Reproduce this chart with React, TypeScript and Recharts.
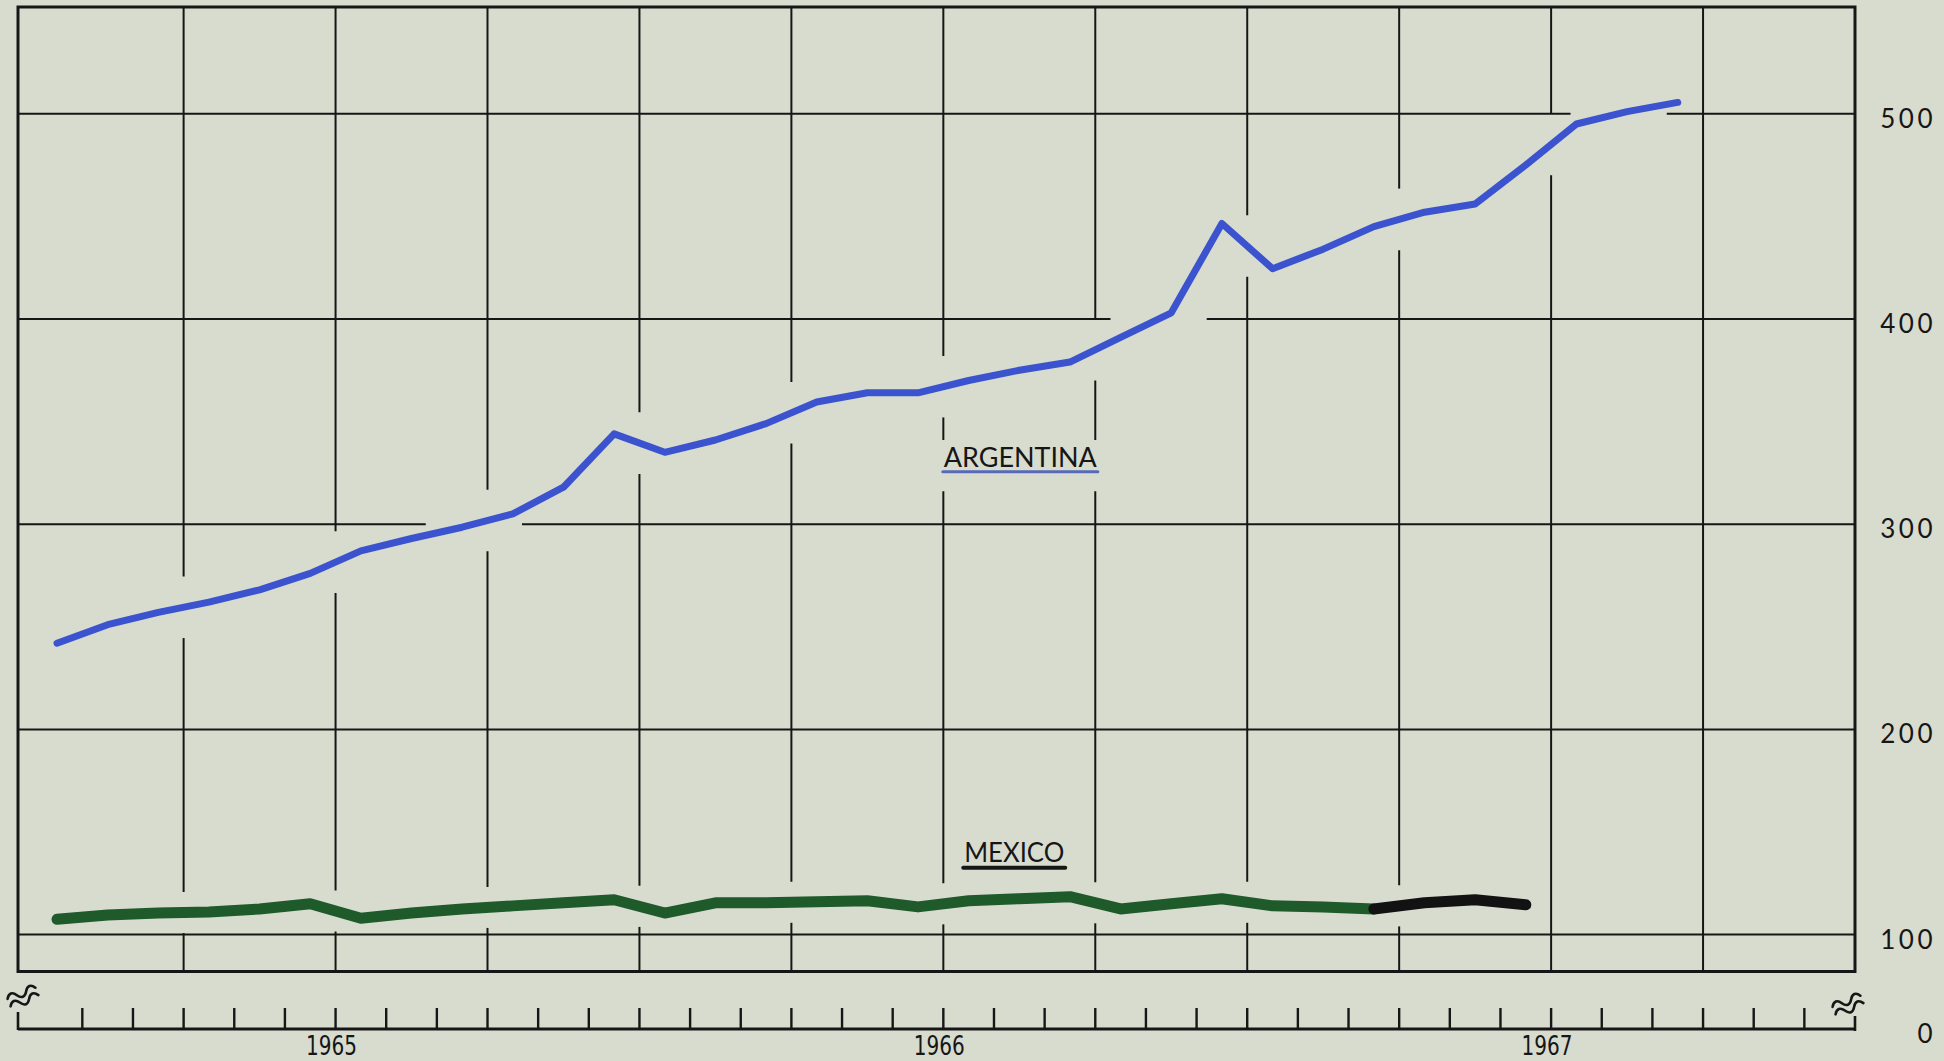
import React from "react";
import {
  LineChart,
  Line,
  XAxis,
  YAxis,
  ReferenceLine,
  ReferenceArea,
  ReferenceDot,
} from "recharts";

// ---------- data ----------
// month boundaries of the time axis (Jan 1965 .. Jan 1968); the two ends carry the break marks
const X_DOMAIN: [number, number] = [-0.27, 36];
const MONTH_TICKS = [
  X_DOMAIN[0], 1, 2, 3, 4, 5, 6, 7, 8, 9, 10, 11, 12, 13, 14, 15, 16, 17, 18,
  19, 20, 21, 22, 23, 24, 25, 26, 27, 28, 29, 30, 31, 32, 33, 34, 35, X_DOMAIN[1],
];
const QUARTER_LINES = [3, 6, 9, 12, 15, 18, 21, 24, 27, 30, 33];
const YEAR_AT = [6, 18, 30];
const YEAR_TEXT = ["1965", "1966", "1967"];

const VALUE_LINES = [100, 200, 300, 400, 500];
const VALUE_TICKS = [54, 100, 200, 300, 400, 500];
const VALUE_TICK_TEXT = ["0", "100", "200", "300", "400", "500"];

// monthly values, Jan 1965 onwards
const ARGENTINA = [
  242, 251, 257, 262, 268, 276, 287, 293, 298.5, 305, 318, 344, 335, 341, 349,
  359.5, 364, 364, 370, 375, 379, 391, 403, 446.5, 424.5, 434, 445, 452, 456,
  475, 495, 501, 505.5,
];
const MEXICO = [
  107.5, 109.5, 110.5, 111, 112.5, 115, 108, 110.5, 112.5, 114, 115.5, 117,
  110.5, 115.5, 115.5, 116, 116.5, 113.5, 116.5, 117.5, 118.5, 112.5, 115,
  117.5, 114, 113.5, 112.5, 115.5, 117, 114.5,
];
const MEXICO_PRELIM_FROM = 26; // drawn in black from this month on

const SERIES_LABELS = ["ARGENTINA", "MEXICO"];

// ---------- layout / style ----------
const W = 1944;
const H = 1061;
const BG = "#d8dccf";
const INK = "#161616";
const ARG_COLOR = "#3c53d0";
const MEX_COLOR = "#1e5a2a";
const MEX_PRELIM_COLOR = "#121212";
const Y_DOMAIN: [number, number] = [54, 552];
const FRAME_BOTTOM = 82;
const ARG_GAP = 15;
const MEX_GAP = 10;
const H_GAP = 0.95;
const ARG_LABEL = { x: 19.52, y: 328, band: [316, 341], cols: [18, 21] };
const MEX_LABEL = { x: 19.4, y: 135.5 };

type Pt = { month: number; value: number };
const toPoints = (values: number[], start: number): Pt[] =>
  values.map((v, i) => ({ month: start + i + 0.5, value: v }));

const argData = toPoints(ARGENTINA, 0);
const mexData = toPoints(MEXICO.slice(0, MEXICO_PRELIM_FROM + 1), 0);
const mexPrelimData = toPoints(MEXICO.slice(MEXICO_PRELIM_FROM), MEXICO_PRELIM_FROM);
const mexAll = toPoints(MEXICO, 0);

function valueAt(points: Pt[], m: number): number | null {
  for (let i = 0; i < points.length - 1; i++) {
    const a = points[i];
    const b = points[i + 1];
    if (m >= a.month && m <= b.month) {
      return a.value + ((b.value - a.value) * (m - a.month)) / (b.month - a.month);
    }
  }
  return null;
}

function crossings(points: Pt[], v: number): number[] {
  const out: number[] = [];
  for (let i = 0; i < points.length - 1; i++) {
    const a = points[i];
    const b = points[i + 1];
    if ((a.value - v) * (b.value - v) <= 0 && a.value !== b.value) {
      out.push(a.month + ((v - a.value) / (b.value - a.value)) * (b.month - a.month));
    }
  }
  return out;
}

function splitRange(lo: number, hi: number, gaps: number[][]): number[][] {
  const sorted = gaps
    .map(([a, b]) => [Math.max(lo, a), Math.min(hi, b)])
    .filter(([a, b]) => b > a)
    .sort((p, q) => p[0] - q[0]);
  const segs: number[][] = [];
  let cur = lo;
  for (const [a, b] of sorted) {
    if (a > cur) segs.push([cur, a]);
    cur = Math.max(cur, b);
  }
  if (cur < hi) segs.push([cur, hi]);
  return segs;
}

const verticalSegments: { x: number; y1: number; y2: number }[] = [];
QUARTER_LINES.forEach((m) => {
  const gaps: number[][] = [];
  const a = valueAt(argData, m);
  if (a !== null) gaps.push([a - ARG_GAP, a + ARG_GAP]);
  const me = valueAt(mexAll, m);
  if (me !== null) gaps.push([me - MEX_GAP, me + MEX_GAP]);
  if (ARG_LABEL.cols.includes(m)) gaps.push(ARG_LABEL.band);
  splitRange(FRAME_BOTTOM, Y_DOMAIN[1], gaps).forEach(([y1, y2]) =>
    verticalSegments.push({ x: m, y1, y2 })
  );
});

const horizontalSegments: { y: number; x1: number; x2: number }[] = [];
VALUE_LINES.forEach((v) => {
  const gaps = crossings(argData, v).map((c) => [c - H_GAP, c + H_GAP]);
  splitRange(X_DOMAIN[0], X_DOMAIN[1], gaps).forEach(([x1, x2]) =>
    horizontalSegments.push({ y: v, x1, x2 })
  );
});

const wave = (x0: number, y0: number) =>
  `M ${x0} ${y0} c 3 -5 7 -5 10 0 s 7 5 10 0 s 7 -5 10 0`;

const BreakMark = ({ cx, cy }: { cx: number; cy: number }) => (
  <g transform={`rotate(-22 ${cx} ${cy})`} fill="none" stroke={INK} strokeWidth={2.6} strokeLinecap="round">
    <path d={wave(cx - 15, cy - 4)} />
    <path d={wave(cx - 15, cy + 4)} />
  </g>
);

const XTick = (props: any) => {
  const { x, y, payload } = props;
  const v = payload.value;
  const yi = YEAR_AT.indexOf(v);
  if (v === X_DOMAIN[0]) {
    return (
      <g>
        <line x1={x} x2={x} y1={y + 1} y2={y - 17} stroke={INK} strokeWidth={2.6} />
        <BreakMark cx={x + 5} cy={y - 32} />
      </g>
    );
  }
  if (v === X_DOMAIN[1]) {
    return (
      <g>
        <line x1={x} x2={x} y1={y + 2} y2={y - 13} stroke={INK} strokeWidth={2.6} />
        <BreakMark cx={x - 7} cy={y - 24} />
      </g>
    );
  }
  return (
    <g>
      <line x1={x} x2={x} y1={y} y2={y - 21} stroke={INK} strokeWidth={2.4} />
      {yi >= 0 && (
        <text
          x={x - 4}
          y={y + 26}
          textAnchor="middle"
          fontFamily="'Liberation Sans Narrow', 'DejaVu Sans Condensed', sans-serif"
          fontSize={26}
          fill={INK}
          textLength={51}
          lengthAdjust="spacingAndGlyphs"
        >
          {YEAR_TEXT[yi]}
        </text>
      )}
    </g>
  );
};

const YTick = (props: any) => {
  const { x, y, payload } = props;
  const i = VALUE_TICKS.indexOf(payload.value);
  return (
    <text
      x={x + 81}
      y={y + 14}
      textAnchor="end"
      fontFamily="Lato, 'DejaVu Sans', sans-serif"
      fontSize={26}
      letterSpacing={3.5}
      fill={INK}
    >
      {VALUE_TICK_TEXT[i]}
    </text>
  );
};

const SeriesLabel = ({
  cx,
  cy,
  text,
  width,
  size,
  lineColor,
  lineWidth,
  lineOffset,
}: any) => (
  <g>
    <text
      x={cx}
      y={cy}
      textAnchor="middle"
      fontFamily="Lato, 'DejaVu Sans', sans-serif"
      fontSize={size}
      fill={INK}
      textLength={width}
      lengthAdjust="spacingAndGlyphs"
    >
      {text}
    </text>
    <line
      x1={cx - width / 2 - 1}
      x2={cx + width / 2 + 1}
      y1={cy + lineOffset}
      y2={cy + lineOffset}
      stroke={lineColor}
      strokeWidth={lineWidth}
      strokeLinecap="round"
    />
  </g>
);

export default function App() {
  return (
    <div
      style={{
        position: "absolute",
        left: 0,
        top: 0,
        width: W,
        height: H,
        background: BG,
        overflow: "hidden",
      }}
    >
      <LineChart width={W} height={H} margin={{ top: 7, right: 0, bottom: 0, left: 18 }}>
        <XAxis
          type="number"
          dataKey="month"
          domain={X_DOMAIN}
          ticks={MONTH_TICKS}
          interval={0}
          height={32}
          tickLine={false}
          tickSize={0}
          tickMargin={0}
          axisLine={{ stroke: INK, strokeWidth: 3 }}
          tick={(p: any) => <XTick {...p} />}
        />
        <YAxis
          type="number"
          orientation="right"
          domain={Y_DOMAIN}
          ticks={VALUE_TICKS}
          interval={0}
          width={89}
          axisLine={false}
          tickLine={false}
          tickSize={0}
          tickMargin={0}
          tick={(p: any) => <YTick {...p} />}
        />
        {horizontalSegments.map((s, i) => (
          <ReferenceLine
            key={`h${i}`}
            segment={[
              { x: s.x1, y: s.y },
              { x: s.x2, y: s.y },
            ]}
            stroke={INK}
            strokeWidth={2}
            ifOverflow="visible"
          />
        ))}
        {verticalSegments.map((s, i) => (
          <ReferenceLine
            key={`v${i}`}
            segment={[
              { x: s.x, y: s.y1 },
              { x: s.x, y: s.y2 },
            ]}
            stroke={INK}
            strokeWidth={2}
            ifOverflow="visible"
          />
        ))}
        <ReferenceArea
          x1={X_DOMAIN[0]}
          x2={X_DOMAIN[1]}
          y1={FRAME_BOTTOM}
          y2={Y_DOMAIN[1]}
          fill="none"
          fillOpacity={0}
          stroke={INK}
          strokeWidth={3}
          ifOverflow="visible"
        />
        <ReferenceDot
          x={ARG_LABEL.x}
          y={ARG_LABEL.y}
          r={0}
          ifOverflow="visible"
          shape={(p: any) => (
            <SeriesLabel
              cx={p.cx}
              cy={p.cy}
              text={SERIES_LABELS[0]}
              width={153}
              size={26}
              lineColor="#5769b8"
              lineWidth={3}
              lineOffset={5}
            />
          )}
        />
        <ReferenceDot
          x={MEX_LABEL.x}
          y={MEX_LABEL.y}
          r={0}
          ifOverflow="visible"
          shape={(p: any) => (
            <SeriesLabel
              cx={p.cx}
              cy={p.cy}
              text={SERIES_LABELS[1]}
              width={100}
              size={27}
              lineColor={INK}
              lineWidth={4}
              lineOffset={6}
            />
          )}
        />
        <Line
          data={mexData}
          dataKey="value"
          type="linear"
          stroke={MEX_COLOR}
          strokeWidth={11}
          strokeLinecap="round"
          strokeLinejoin="round"
          dot={false}
          activeDot={false}
          isAnimationActive={false}
        />
        <Line
          data={mexPrelimData}
          dataKey="value"
          type="linear"
          stroke={MEX_PRELIM_COLOR}
          strokeWidth={11}
          strokeLinecap="round"
          strokeLinejoin="round"
          dot={false}
          activeDot={false}
          isAnimationActive={false}
        />
        <Line
          data={argData}
          dataKey="value"
          type="linear"
          stroke={ARG_COLOR}
          strokeWidth={7}
          strokeLinecap="round"
          strokeLinejoin="round"
          dot={false}
          activeDot={false}
          isAnimationActive={false}
        />
      </LineChart>
    </div>
  );
}
